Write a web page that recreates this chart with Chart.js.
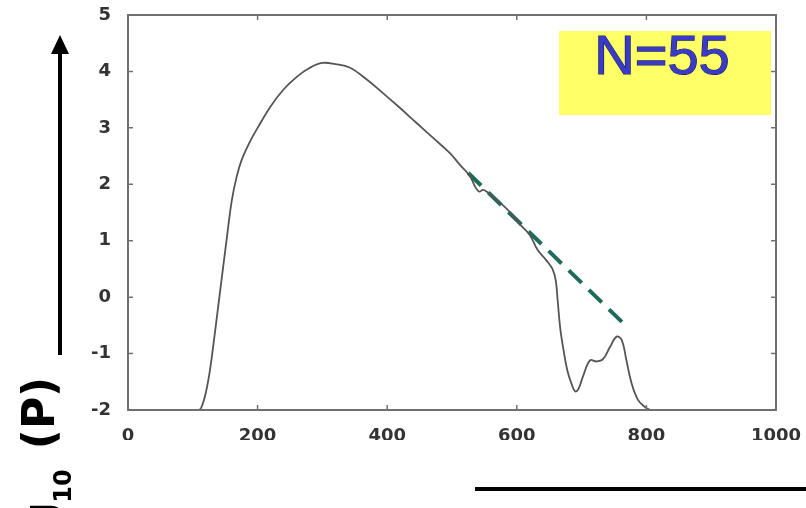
<!DOCTYPE html>
<html>
<head>
<meta charset="utf-8">
<script src="https://cdn.jsdelivr.net/npm/chart.js@4.4.1/dist/chart.umd.min.js"></script>
<style>
  html, body { margin: 0; padding: 0; background: #fff; }
  #wrap { width: 806px; height: 508px; }
</style>
</head>
<body>
<div id="wrap"><canvas id="c" width="806" height="508"></canvas></div>
<script>
// curve
const curveX = [0, 100, 110, 115, 120, 125, 130, 141, 152, 160, 167, 175, 188, 200, 220, 240, 260, 280, 300, 320, 342, 368, 393, 419, 445, 470, 496, 512, 528, 536, 542, 548, 556, 570, 590, 605, 620, 632, 645, 655, 660, 663, 667, 672, 678, 684, 690, 695, 702, 713, 723, 733, 744, 754, 762, 769, 777, 787, 798, 806];
const curveY = [-2, -2, -2, -1.9, -1.7, -1.4, -1.0, 0, 1.0, 1.7, 2.1, 2.42, 2.75, 3.0, 3.38, 3.68, 3.9, 4.06, 4.15, 4.13, 4.07, 3.86, 3.62, 3.36, 3.09, 2.83, 2.56, 2.35, 2.14, 1.95, 1.87, 1.9, 1.85, 1.72, 1.5, 1.29, 1.1, 0.84, 0.66, 0.5, 0.3, -0.05, -0.55, -0.93, -1.3, -1.52, -1.67, -1.63, -1.41, -1.12, -1.14, -1.1, -0.88, -0.7, -0.76, -1.11, -1.52, -1.82, -1.95, -2];

// dashed fit
const fitX = [525, 765];
const fitY = [2.2, -0.47];

const xTicks = [0, 200, 400, 600, 800, 1000];
const yTicks = [-2, -1, 0, 1, 2, 3, 4, 5];

const curvePts = curveX.map((x, i) => ({ x: x, y: curveY[i] }));
const fitPts = fitX.map((x, i) => ({ x: x, y: fitY[i] }));

// frame + inward ticks, box, arrow, labels
const decor = {
  id: 'decor',
  afterDraw(chart) {
    const ctx = chart.ctx;
    const a = chart.chartArea;
    const xs = chart.scales.x, ys = chart.scales.y;
    ctx.save();
    ctx.strokeStyle = '#707070';
    ctx.lineWidth = 2;
    ctx.strokeRect(a.left, a.top, a.right - a.left, a.bottom - a.top);
    ctx.lineWidth = 1.5;
    ctx.beginPath();
    xTicks.forEach(v => {
      const px = xs.getPixelForValue(v);
      ctx.moveTo(px, a.bottom); ctx.lineTo(px, a.bottom - 5);
      ctx.moveTo(px, a.top); ctx.lineTo(px, a.top + 5);
    });
    yTicks.forEach(v => {
      const py = ys.getPixelForValue(v);
      ctx.moveTo(a.left, py); ctx.lineTo(a.left + 5, py);
      ctx.moveTo(a.right, py); ctx.lineTo(a.right - 5, py);
    });
    ctx.stroke();

    // yellow label box
    ctx.fillStyle = '#ffff66';
    ctx.fillRect(559, 31, 212, 84);
    ctx.font = '56px "Liberation Sans", Arial, sans-serif';
    ctx.textAlign = 'center';
    ctx.textBaseline = 'middle';
    ctx.lineWidth = 1.2;
    ctx.strokeStyle = '#1a1a60';
    ctx.strokeText('N=55', 662, 59);
    ctx.fillStyle = '#3a3ac8';
    ctx.fillText('N=55', 662, 59);

    // arrow on the left
    ctx.strokeStyle = '#000';
    ctx.fillStyle = '#000';
    ctx.lineWidth = 4;
    ctx.beginPath();
    ctx.moveTo(60, 355); ctx.lineTo(60, 50);
    ctx.stroke();
    ctx.beginPath();
    ctx.moveTo(60, 35); ctx.lineTo(69, 54); ctx.lineTo(51, 54); ctx.closePath();
    ctx.fill();

    // bottom bar
    ctx.beginPath();
    ctx.moveTo(475, 489); ctx.lineTo(806, 489);
    ctx.stroke();

    // rotated axis label
    ctx.save();
    ctx.rotate(-Math.PI / 2);
    ctx.textBaseline = 'middle';
    ctx.textAlign = 'center';
    ctx.font = 'bold 44px "DejaVu Sans", sans-serif';
    ctx.fillText('(P)', -413, 43);
    ctx.font = 'bold 24px "DejaVu Sans", sans-serif';
    ctx.fillText('10', -486, 65);
    ctx.textAlign = 'right';
    ctx.font = 'bold 44px "DejaVu Sans", sans-serif';
    ctx.fillText('log', -502, 43);
    ctx.restore();
    ctx.restore();
  }
};

new Chart(document.getElementById('c'), {
  type: 'line',
  data: {
    datasets: [
      {
        data: curvePts,
        borderColor: '#555555',
        borderWidth: 1.8,
        pointRadius: 0,
        tension: 0.4
      },
      {
        data: fitPts,
        borderColor: '#1d6b58',
        borderWidth: 4,
        borderDash: [18, 10],
        pointRadius: 0
      }
    ]
  },
  options: {
    responsive: false,
    animation: false,
    layout: { padding: { left: 0, top: 15, right: 30, bottom: 68 } },
    plugins: { legend: { display: false }, tooltip: { enabled: false } },
    scales: {
      x: {
        type: 'linear',
        min: 0, max: 1000,
        afterFit: s => { s.height = 30; s.paddingLeft = 0; s.paddingRight = 0; },
        afterBuildTicks: s => { s.ticks = xTicks.map(v => ({ value: v })); },
        grid: { display: false },
        border: { display: false },
        ticks: {
          padding: 8, color: '#333',
          font: { family: 'DejaVu Sans', size: 18, weight: 'bold' },
          callback: v => String(v)
        }
      },
      y: {
        min: -2, max: 5,
        afterFit: s => { s.width = 128; s.paddingTop = 0; s.paddingBottom = 0; },
        afterBuildTicks: s => { s.ticks = yTicks.map(v => ({ value: v })); },
        grid: { display: false },
        border: { display: false },
        ticks: {
          padding: 9, color: '#333',
          font: { family: 'DejaVu Sans', size: 18, weight: 'bold' },
          callback: v => String(v)
        }
      }
    }
  },
  plugins: [decor]
});
</script>
</body>
</html>
